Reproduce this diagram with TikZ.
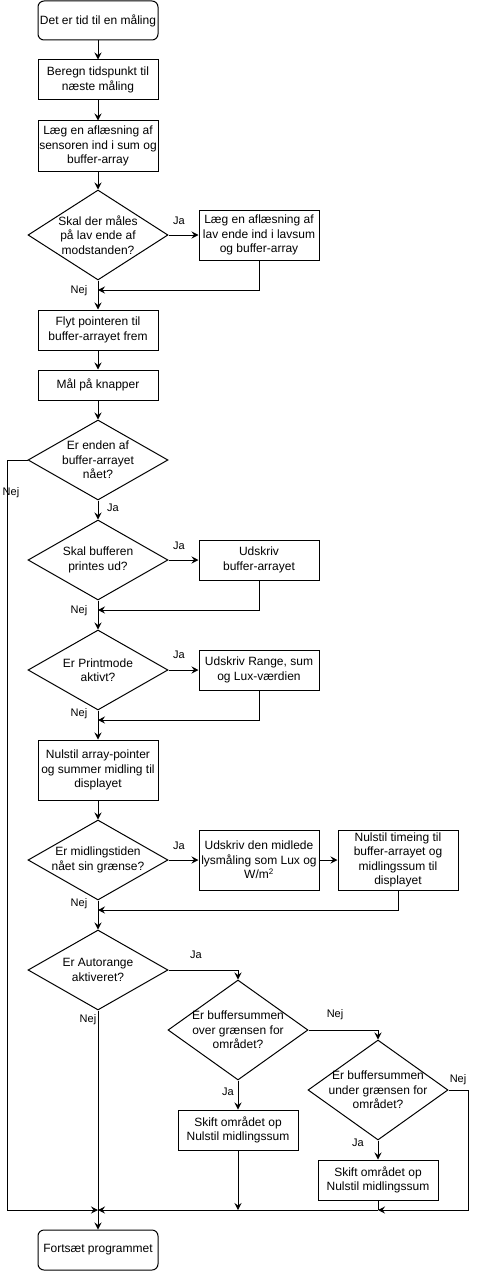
\documentclass[tikz,border=0pt]{standalone}
\usepackage{fontspec}
\setmainfont{Liberation Sans}
\usetikzlibrary{shapes.geometric,arrows.meta}
\begin{document}
\begin{tikzpicture}[x=1pt,y=-1pt,
  every node/.style={font=\fontsize{12}{14.4}\selectfont},
  proc/.style={draw, line width=1pt, minimum width=120pt, minimum height=40pt, align=center, inner sep=0pt},
  term/.style={proc, rounded corners=6pt},
  decision/.style={draw, diamond, aspect=1.75, inner sep=-12pt, minimum width=140pt, minimum height=80pt, align=center, line width=1pt},
  arr/.style={-{Stealth[length=7pt,width=7pt,inset=2.5pt]}, line width=1pt},
  conn/.style={line width=1pt},
  lbl/.style={font=\fontsize{11}{13}\selectfont, inner sep=0pt}]
\fill[white] (0,0) rectangle (477,1271);
\useasboundingbox (0,0) rectangle (477,1271);

\node[term, minimum height=39pt] (start) at (98,20.5) {Det er tid til en måling};
\node[proc] (b1) at (98,80) {Beregn tidspunkt til\\næste måling};
\node[proc, minimum height=50pt] (b2) at (98,146) {Læg en aflæsning af\\sensoren ind i sum og\\buffer-array};
\node[decision, minimum height=90pt] (d1) at (98,235) {Skal der måles\\på lav ende af\\modstanden?};
\node[proc, minimum height=50pt] (b3) at (259,235) {Læg en aflæsning af\\lav ende ind i lavsum\\og buffer-array};
\node[proc] (b4) at (98,330) {Flyt pointeren til\\buffer-arrayet frem};
\node[proc, minimum height=30pt] (b5) at (98,385) {Mål på knapper};
\node[decision] (d2) at (98,460) {Er enden af\\buffer-arrayet\\nået?};
\node[decision] (d3) at (98,560) {Skal bufferen\\printes ud?};
\node[proc] (b6) at (259,560) {Udskriv\\buffer-arrayet};
\node[decision] (d4) at (98,670) {Er Printmode\\aktivt?};
\node[proc] (b7) at (259,670) {Udskriv Range, sum\\og Lux-værdien};
\node[proc, minimum height=60pt] (b8) at (98,770) {Nulstil array-pointer\\og summer midling til\\displayet};
\node[decision] (d5) at (98,860) {Er midlingstiden\\nået sin grænse?};
\node[proc, minimum height=60pt] (b9) at (259,860) {Udskriv den midlede\\lysmåling som Lux og\\W/m\textsuperscript{2}};
\node[proc, minimum height=60pt] (b10) at (398,860) {Nulstil timeing til\\buffer-arrayet og\\midlingssum til\\displayet};
\node[decision] (d6) at (98,970) {Er Autorange\\aktiveret?};
\node[decision, minimum height=100pt] (d7) at (238,1030) {Er buffersummen\\over grænsen for\\området?};
\node[decision, minimum height=100pt] (d8) at (378,1090) {Er buffersummen\\under grænsen for\\området?};
\node[proc] (b11) at (238,1130) {Skift området op\\Nulstil midlingssum};
\node[proc] (b12) at (378,1180) {Skift området op\\Nulstil midlingssum};
\node[term] (end) at (98,1250) {Fortsæt programmet};

\coordinate (m1) at (98,290);
\coordinate (m2) at (98,610);
\coordinate (m3) at (98,720);
\coordinate (m4) at (98,910);
\coordinate (j) at (98,1210);
\coordinate (jm) at (238,1210);
\coordinate (jr) at (378,1210);

\draw[arr] (start) -- (b1);
\draw[arr] (b1) -- (b2);
\draw[arr] (b2) -- (d1);
\draw[arr] (d1) -- (b3);
\draw[arr] (d1) -- (b4);
\draw[arr] (b3.south) |- (m1);
\draw[arr] (b4) -- (b5);
\draw[arr] (b5) -- (d2);
\draw[arr] (d2) -- (d3);
\draw[arr] (d3) -- (b6);
\draw[arr] (d3) -- (d4);
\draw[arr] (b6.south) |- (m2);
\draw[arr] (d4) -- (b7);
\draw[arr] (d4) -- (b8);
\draw[arr] (b7.south) |- (m3);
\draw[arr] (b8) -- (d5);
\draw[arr] (d5) -- (b9);
\draw[arr] (b9) -- (b10);
\draw[arr] (d5) -- (d6);
\draw[arr] (b10.south) |- (m4);
\draw[arr] (d6.east) -| (d7.north);
\draw[arr] (d7.east) -| (d8.north);
\draw[arr] (d7) -- (b11);
\draw[arr] (d8) -- (b12);
\draw[arr] (d6) -- (end);
\draw[arr] (d2.west) -- ++(-20,0) |- (j);
\draw[arr] (d8.east) -- ++(20,0) |- (jr);
\draw[conn] (b12.south) -- (jr);
\draw[arr] (jr) -- (j);
\draw[arr] (b11.south) -- (jm);

\node[lbl] (l1) at (179,221) {Ja};
\node[lbl] (l2) at (79,291) {Nej};
\node[lbl] (l3) at (11,493) {Nej};
\node[lbl] (l4) at (113,508) {Ja};
\node[lbl] (l5) at (179,546) {Ja};
\node[lbl] (l6) at (79,611) {Nej};
\node[lbl] (l7) at (179,655) {Ja};
\node[lbl] (l8) at (79,714) {Nej};
\node[lbl] (l9) at (179,846) {Ja};
\node[lbl] (l10) at (79,904) {Nej};
\node[lbl] (l11) at (196,955) {Ja};
\node[lbl] (l12) at (88,1020) {Nej};
\node[lbl] (l13) at (335,1015) {Nej};
\node[lbl] (l14) at (458,1080) {Nej};
\node[lbl] (l15) at (228,1092) {Ja};
\node[lbl] (l16) at (358,1143) {Ja};
\end{tikzpicture}
\end{document}
